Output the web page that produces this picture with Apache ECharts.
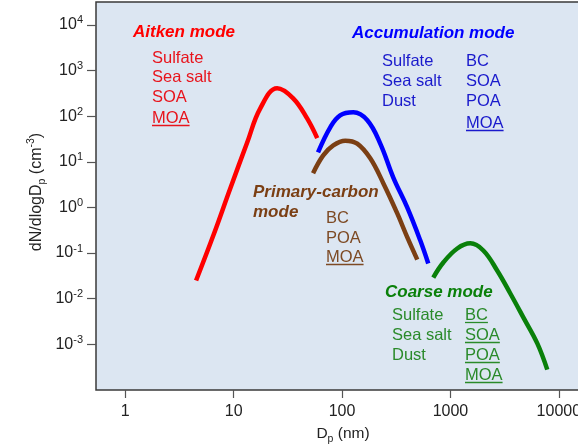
<!DOCTYPE html>
<html><head><meta charset="utf-8">
<script src="https://cdn.jsdelivr.net/npm/echarts@6/dist/echarts.min.js"></script>
<style>html,body{margin:0;padding:0;background:#fff;overflow:hidden}#c{width:578px;height:447px}</style>
</head><body><div id="c"></div><script>
// Tick values (decades)
const xTickExp = [0, 1, 2, 3, 4];          // 1 .. 10000 nm
const yTickExp = [-3, -2, -1, 0, 1, 2, 3, 4];
// Aitken mode (red)
const aitkenD = [4.5, 6.5, 9.3, 13.3, 17.6, 25.2, 35.4, 47.6, 59];
const aitkenN = [0.025, 0.245, 2.6, 26, 148, 407, 245, 89, 33];
// Accumulation mode (blue)
const accumD = [60, 77.8, 96, 127, 171, 225, 297, 399, 526, 624];
const accumN = [16, 56.9, 104, 121, 81, 25, 4.5, 1.0, 0.19, 0.059];
// Primary-carbon mode (brown)
const pcD = [54, 67, 83, 107, 138, 182, 240, 323, 400, 494];
const pcN = [5.6, 13.8, 22.9, 29, 25, 11.9, 3.4, 0.74, 0.22, 0.072];
// Coarse mode (green)
const coarseD = [694, 859, 1156, 1524, 2009, 2704, 3565, 4700, 6324, 7816];
const coarseN = [0.029, 0.062, 0.126, 0.163, 0.114, 0.041, 0.013, 0.0039, 0.00105, 0.00028];

const FF = '"Liberation Sans", Arial, sans-serif';
const L = Math.log10;
function pts(d, n) { return d.map((v, i) => [L(v), L(n[i])]); }

const cv = document.createElement('canvas').getContext('2d');
function tw(t, font) { cv.font = font; return cv.measureText(t).width; }

const LIST_FONT = '16.5px ' + FF;
const TITLE_FONT = 'italic bold 17px ' + FF;
const graphics = [];
function title(t, x, y, c) {
  graphics.push({type: 'text', x: x, y: y, z: 10, style: {text: t, fill: c, font: TITLE_FONT, verticalAlign: 'middle'}});
}
function item(t, x, y, c, ul) {
  graphics.push({type: 'text', x: x, y: y, z: 10, style: {text: t, fill: c, font: LIST_FONT, verticalAlign: 'middle'}});
  if (ul) {
    const w = tw(t, LIST_FONT);
    graphics.push({type: 'line', z: 10, shape: {x1: x, y1: y + 7.5, x2: x + w, y2: y + 7.5}, style: {stroke: c, lineWidth: 1.3}});
  }
}
const RED = '#ff0000', RT = '#e8141c';
const BLUE = '#0000ff', BT = '#1a1acc';
const BROWN = '#7b3f14', BRT = '#7d4a24';
const GREEN = '#0a800a', GT = '#2a8a2a';

title('Aitken mode', 133, 32, RED);
item('Sulfate', 152, 58, RT); item('Sea salt', 152, 77, RT); item('SOA', 152, 97, RT); item('MOA', 152, 118, RT, true);
title('Accumulation mode', 352, 33, BLUE);
item('Sulfate', 382, 61, BT); item('Sea salt', 382, 81, BT); item('Dust', 382, 101, BT);
item('BC', 466, 61, BT); item('SOA', 466, 81, BT); item('POA', 466, 101, BT); item('MOA', 466, 123, BT, true);
title('Primary-carbon', 253, 192, BROWN); title('mode', 253, 212, BROWN);
item('BC', 326, 218, BRT); item('POA', 326, 238, BRT); item('MOA', 326, 257, BRT, true);
title('Coarse mode', 385, 292, GREEN);
item('Sulfate', 392, 315, GT); item('Sea salt', 392, 335, GT); item('Dust', 392, 355, GT);
item('BC', 465, 315, GT, true); item('SOA', 465, 335, GT, true); item('POA', 465, 355, GT, true); item('MOA', 465, 375, GT, true);

// axis names
graphics.push({type: 'text', x: 37, y: 192, rotation: Math.PI / 2, style: {
  text: '{a|dN/dlogD}{s|p}{a| (cm}{u|-3}{a|)}', align: 'center', verticalAlign: 'middle',
  rich: {a: {fontSize: 16, fontFamily: FF, fill: '#222', lineHeight: 22},
         s: {fontSize: 10.5, fontFamily: FF, fill: '#222', verticalAlign: 'bottom'},
         u: {fontSize: 10.5, fontFamily: FF, fill: '#222', verticalAlign: 'top'}}
}});
graphics.push({type: 'text', x: 343, y: 434, style: {
  text: '{a|D}{s|p}{a| (nm)}', align: 'center', verticalAlign: 'middle',
  rich: {a: {fontSize: 15.5, fontFamily: FF, fill: '#222', lineHeight: 22},
         s: {fontSize: 10.5, fontFamily: FF, fill: '#222', verticalAlign: 'bottom'}}
}});

const xMin = -0.27, xMax = 4.5, yMin = -4, yMax = 4.5;
const chart = echarts.init(document.getElementById('c'), null, {renderer: 'canvas'});
function line(d, n, c, w) {
  return {type: 'line', data: pts(d, n), smooth: 0.4, symbol: 'none', silent: true,
    lineStyle: {color: c, width: w, cap: 'butt'}, z: 5};
}
chart.setOption({
  animation: false,
  backgroundColor: '#fff',
  grid: {left: 96, top: 2, width: 108.4 * (xMax - xMin), height: 388, show: true,
    outerBoundsMode: 'none',
    backgroundColor: '#dce6f2', borderColor: '#3a3a3a', borderWidth: 1.5, containLabel: false},
  xAxis: {type: 'value', min: xMin, max: xMax, splitLine: {show: false},
    axisLine: {show: false, onZero: false},
    axisTick: {show: true, length: 8, customValues: xTickExp, lineStyle: {color: '#555', width: 1.2}},
    axisLabel: {customValues: xTickExp, margin: 14, fontSize: 16, fontFamily: FF, color: '#222',
      hideOverlap: false,
      formatter: v => String(Math.round(Math.pow(10, v)))}},
  yAxis: {type: 'value', min: yMin, max: yMax, splitLine: {show: false},
    axisLine: {show: false, onZero: false},
    axisTick: {show: true, length: 9, customValues: yTickExp, lineStyle: {color: '#555', width: 1.2}},
    axisLabel: {customValues: yTickExp, margin: 13, fontFamily: FF, color: '#222',
      formatter: v => '{b|10}{s|' + Math.round(v) + '}',
      rich: {b: {fontSize: 16, fontFamily: FF, color: '#222', lineHeight: 20},
             s: {fontSize: 11, fontFamily: FF, color: '#222', verticalAlign: 'top'}}}},
  series: [
    line(aitkenD, aitkenN, RED, 4.5),
    line(accumD, accumN, BLUE, 4.5),
    line(pcD, pcN, BROWN, 4.5),
    line(coarseD, coarseN, GREEN, 4.5)
  ],
  graphic: graphics
});
</script></body></html>
